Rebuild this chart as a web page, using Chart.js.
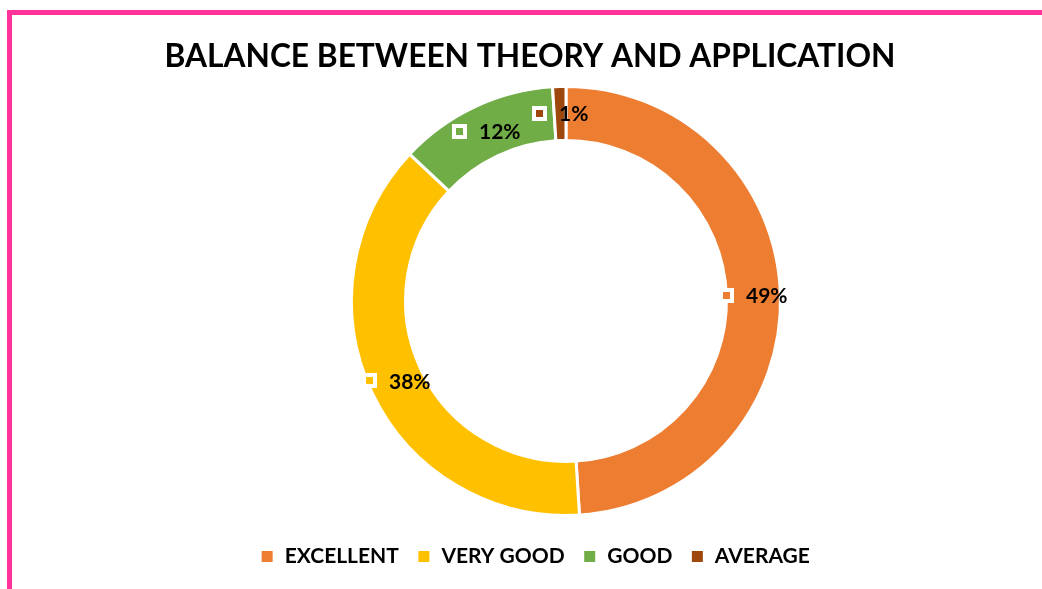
<!DOCTYPE html>
<html>
<head>
<meta charset="utf-8">
<script src="https://cdn.jsdelivr.net/npm/chart.js@4.4.1/dist/chart.umd.min.js"></script>
<style>
  html, body { margin: 0; padding: 0; background: #ffffff; overflow: hidden; }
  #frame { position: absolute; left: 7px; top: 10px; width: 2000px; height: 2000px;
           border-left: 5px solid #FF3399; border-top: 5px solid #FF3399; }
  #wrap { position: absolute; left: 0; top: 0; width: 1042px; height: 589px; }
</style>
</head>
<body>
<div id="frame"></div>
<div id="wrap"><canvas id="c" width="1042" height="589"></canvas></div>
<script>
const titleText = 'BALANCE BETWEEN THEORY AND APPLICATION';
const categories = ['EXCELLENT', 'VERY GOOD', 'GOOD', 'AVERAGE'];
const percentages = [49, 38, 12, 1];
const sliceColors = ['#ED7D31', '#FFC000', '#70AD47', '#9E480E'];

const FONT = 'Lato, "Open Sans", "Liberation Sans", sans-serif';

// Shift title & legend boxes so they are centered where the reference has them
const shiftBoxes = {
  id: 'shiftBoxes',
  afterLayout(chart) {
    const t = chart.titleBlock;
    if (t) { const dx = 530 - (t.left + t.right) / 2; t.left += dx; t.right += dx; }
    const l = chart.legend;
    if (l) { const dx = 535 - (l.left + l.right) / 2; l.left += dx; l.right += dx; }
  }
};

// Excel style data labels: legend key marker + percentage text, centered on the ring
const ringLabels = {
  id: 'ringLabels',
  afterDatasetsDraw(chart) {
    const ctx = chart.ctx;
    const meta = chart.getDatasetMeta(0);
    ctx.save();
    ctx.font = 'bold 21px ' + FONT;
    ctx.textBaseline = 'middle';
    ctx.textAlign = 'left';
    meta.data.forEach((arc, i) => {
      const pos = arc.tooltipPosition();
      const txt = percentages[i] + '%';
      const tw = ctx.measureText(txt).width;
      const mk = 15, gap = 12;
      const total = mk + gap + tw;
      const x0 = Math.round(pos.x - total / 2);
      const y0 = Math.round(pos.y - mk / 2);
      ctx.fillStyle = '#ffffff';
      ctx.fillRect(x0, y0, mk, mk);
      ctx.fillStyle = sliceColors[i];
      ctx.fillRect(x0 + 4, y0 + 4, mk - 8, mk - 8);
      ctx.fillStyle = '#000000';
      ctx.fillText(txt, x0 + mk + gap, pos.y + 1);
    });
    ctx.restore();
  }
};

new Chart(document.getElementById('c'), {
  type: 'doughnut',
  data: {
    labels: categories,
    datasets: [{
      data: percentages,
      backgroundColor: sliceColors,
      borderColor: '#ffffff',
      borderWidth: 3,
      radius: 214.5,
      cutout: '74.8%'
    }]
  },
  options: {
    responsive: false,
    animation: false,
    layout: { padding: { left: 90, right: 0, top: 0, bottom: 12 } },
    plugins: {
      title: {
        display: true,
        text: titleText,
        color: '#000000',
        font: { family: FONT, size: 31.7, weight: 'bold', lineHeight: 1.1 },
        padding: { top: 39, bottom: 0 }
      },
      legend: {
        position: 'bottom',
        labels: {
          color: '#000000',
          font: { family: FONT, size: 21, weight: 'bold' },
          boxWidth: 14,
          boxHeight: 14,
          padding: 18
        }
      },
      tooltip: { enabled: false }
    }
  },
  plugins: [shiftBoxes, ringLabels]
});
</script>
</body>
</html>
